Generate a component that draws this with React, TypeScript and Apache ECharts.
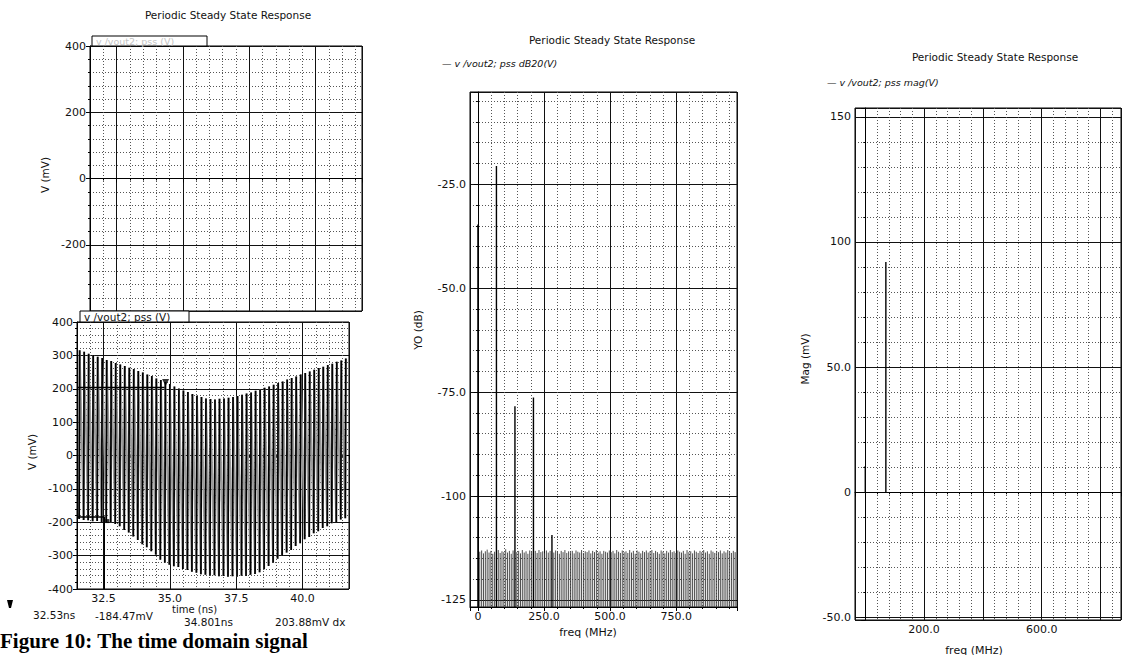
import React, { useEffect, useRef } from 'react';
import * as echarts from 'echarts';

const FONT = '"DejaVu Sans", Verdana, sans-serif';

// ---------- time domain (left) ----------
const TIME_MIN = 31.5;
const TIME_MAX = 41.75;
const timeTicks = [32.5, 35, 37.5, 40];
const cycleStart = 31.58; // ns, first rising edge
const cyclePeriod = 0.17; // ns
const riseTime = 0.02; // ns
const cyclePeaks = [
  315, 311, 305, 301, 296, 292, 286, 283, 277, 273, 268, 263, 259, 253, 249, 243, 238, 231, 226, 220,
  214, 207, 201, 195, 190, 184, 179, 175, 171, 169, 168, 170, 171, 173, 175, 178, 182, 186, 189, 194,
  198, 203, 207, 212, 217, 222, 228, 232, 237, 243, 247, 252, 257, 262, 266, 271, 275, 281, 285, 291,
];
const cycleTroughs = [
  -190, -193, -194, -197, -196, -199, -200, -201, -205, -212, -223, -231, -243, -253, -266, -275, -287, -297, -312, -321,
  -327, -332, -334, -340, -343, -348, -351, -356, -357, -360, -359, -362, -361, -363, -362, -363, -360, -361, -357, -355,
  -350, -341, -331, -321, -309, -301, -291, -283, -271, -263, -251, -244, -233, -227, -217, -212, -203, -199, -192, -188,
];
const markerA = { t: 32.53, v: -184.47 };
const markerB = { t: 34.801, v: 203.88 };
const topYTicks = [-200, 0, 200, 400];
const botYTicks = [-400, -300, -200, -100, 0, 100, 200, 300, 400];

// ---------- spectrum dB20 (middle) ----------
const specStep = 7; // MHz between harmonics
const specDb = [
  -34.7, -113.4, -113.1, -113.8, -113.3, -112.9, -113.6, -113.2, -113.9, -113.4,
  -20.6, -113.0, -113.7, -113.3, -113.5, -112.8, -113.6, -113.2, -113.9, -113.1,
  -78.4, -113.5, -113.2, -113.8, -113.0, -113.6, -113.3, -113.9, -113.1, -113.4,
  -76.3, -113.2, -113.7, -113.0, -113.5, -113.3, -113.8, -113.1, -113.6, -113.2,
  -109.4, -113.6, -113.1, -113.4, -113.9, -113.2, -113.5, -113.0, -113.7, -113.3,
  -113.5, -113.2, -113.8, -113.1, -113.4, -113.6, -113.0, -113.7, -113.3, -113.5,
  -113.1, -113.8, -113.2, -113.5, -113.0, -113.6, -113.3, -113.9, -113.2, -113.4,
  -113.6, -113.1, -113.5, -113.2, -113.8, -113.0, -113.4, -113.7, -113.1, -113.5,
  -113.3, -113.7, -113.0, -113.6, -113.2, -113.9, -113.1, -113.4, -113.8, -113.2,
  -113.5, -113.1, -113.6, -113.3, -113.0, -113.7, -113.2, -113.5, -113.9, -113.1,
  -113.4, -113.8, -113.2, -113.6, -113.0, -113.5, -113.3, -113.7, -113.1, -113.4,
  -113.6, -113.2, -113.9, -113.0, -113.5, -113.3, -113.8, -113.1, -113.4, -113.7,
  -113.2, -113.5, -113.0, -113.6, -113.3, -113.9, -113.1, -113.4, -113.7, -113.2,
  -113.5, -113.1, -113.8, -113.3, -113.6, -113.0, -113.4, -113.7, -113.2, -113.5,
];
const DB_MIN = -126.7;
const DB_MAX = -2.8;
const dbYTicks = [-125, -100, -75, -50, -25];
const dbYLabels = ['-125', '-100', '-75.0', '-50.0', '-25.0'];
const dbXTicks = [0, 250, 500, 750];
const dbXLabels = ['0', '250.0', '500.0', '750.0'];

// ---------- spectrum magnitude (right) ----------
const magFreq = [0, 70];
const magMv = [10.5, 92];
const magYTicks = [-50, 0, 50, 100, 150];
const magYLabels = ['-50.0', '0', '50.0', '100', '150'];
const magXTicks = [200, 600];
const magXLabels = ['200.0', '600.0'];

const pick = (ticks: number[], labels: string[]) => (v: number) => {
  const i = ticks.findIndex((t) => Math.abs(t - v) < 1e-6);
  return i >= 0 ? labels[i] : '';
};

function axis(gridIndex: number, min: number, max: number, major: number, minorSplit: number, fmt: any, showLabels: boolean) {
  return {
    type: 'value',
    gridIndex,
    min,
    max,
    minInterval: major,
    maxInterval: major,
    axisLine: { show: true, lineStyle: { color: '#000', width: 1 } },
    axisTick: { show: true, length: 4, lineStyle: { color: '#000', width: 1 } },
    minorTick: { show: true, splitNumber: minorSplit, length: 2, lineStyle: { color: '#000', width: 1 } },
    splitLine: { show: true, lineStyle: { color: '#111', width: 1, type: 'solid' } },
    minorSplitLine: { show: true, lineStyle: { color: '#555', width: 1, type: [1, 2] } },
    axisLabel: { show: showLabels, formatter: fmt, color: '#111', fontFamily: FONT, fontSize: 11, margin: 4 },
  };
}

const txt = (x: number, y: number, text: string, o: any = {}) => ({
  type: 'text',
  x,
  y,
  rotation: o.rotation || 0,
  silent: true,
  z: 100,
  style: {
    text,
    fill: o.fill || '#111',
    fontFamily: o.fontFamily || FONT,
    fontSize: o.fontSize || 11,
    fontStyle: o.fontStyle || 'normal',
    fontWeight: o.fontWeight || 'normal',
    textAlign: o.align || 'left',
    textVerticalAlign: 'middle',
  },
});

export default function App() {
  const ref = useRef<HTMLDivElement>(null);
  useEffect(() => {
    if (!ref.current) return;
    const chart = echarts.init(ref.current, null, { renderer: 'svg' });

    const zigzag: number[][] = [];
    const rises: number[][] = [];
    cyclePeaks.forEach((p, i) => {
      const t = cycleStart + i * cyclePeriod;
      zigzag.push([t, cycleTroughs[i]]);
      zigzag.push([t + riseTime, p]);
      rises.push([t, cycleTroughs[i], p]);
    });
    const specData = specDb.map((v, k) => [k * specStep, v]);
    const magData = magFreq.map((f, i) => [f, magMv[i]]);

    const stem = (base: number, heavy: (v: number) => boolean) => (params: any, api: any) => {
      const v = api.value(1);
      const top = api.coord([api.value(0), v]);
      const bot = api.coord([api.value(0), base]);
      const h = heavy(v);
      return {
        type: 'line',
        shape: { x1: top[0], y1: top[1], x2: bot[0], y2: bot[1] },
        style: { stroke: h ? '#000' : '#3a3a3a', lineWidth: h ? 1.4 : 0.9 },
      };
    };

    const gridBase = { show: true, borderColor: '#000', borderWidth: 1, containLabel: false, outerBoundsMode: 'none' };

    const option: any = {
      animation: false,
      backgroundColor: '#fff',
      grid: [
        { ...gridBase, left: 90, top: 46, width: 272, height: 265 },
        { ...gridBase, left: 77, top: 322, width: 272, height: 267 },
        { ...gridBase, left: 470, top: 92, width: 267, height: 515 },
        { ...gridBase, left: 855, top: 108, width: 266, height: 512 },
      ],
      xAxis: [
        axis(0, TIME_MIN, TIME_MAX, 2.5, 5, () => '', false),
        axis(1, TIME_MIN, TIME_MAX, 2.5, 5, pick(timeTicks, timeTicks.map((t) => t.toFixed(1))), true),
        axis(2, -30, 980, 250, 5, pick(dbXTicks, dbXLabels), true),
        axis(3, -35, 870, 200, 5, pick(magXTicks, magXLabels), true),
      ],
      yAxis: [
        axis(0, -400, 400, 200, 5, pick(topYTicks, topYTicks.map(String)), true),
        axis(1, -400, 400, 100, 5, pick(botYTicks, botYTicks.map(String)), true),
        axis(2, DB_MIN, DB_MAX, 25, 5, pick(dbYTicks, dbYLabels), true),
        axis(3, -51, 153.5, 50, 5, pick(magYTicks, magYLabels), true),
      ],
      series: [
        {
          type: 'line', xAxisIndex: 1, yAxisIndex: 1, data: zigzag, showSymbol: false, symbol: 'none',
          lineStyle: { color: '#9a9a9a', width: 2 }, silent: true, z: 3,
        },
        {
          type: 'custom', xAxisIndex: 1, yAxisIndex: 1, data: rises, clip: true, silent: true, z: 4,
          renderItem: (params: any, api: any) => {
            const a = api.coord([api.value(0), api.value(1)]);
            const b = api.coord([api.value(0) + riseTime, api.value(2)]);
            return { type: 'line', shape: { x1: a[0], y1: a[1], x2: b[0], y2: b[1] }, style: { stroke: '#000', lineWidth: 1.7 } };
          },
        },
        {
          type: 'line', xAxisIndex: 1, yAxisIndex: 1, showSymbol: false, symbol: 'none', silent: true, z: 6,
          data: [[TIME_MIN, markerB.v], [markerB.t, markerB.v]],
          lineStyle: { color: '#000', width: 1.6 },
        },
        {
          type: 'line', xAxisIndex: 1, yAxisIndex: 1, showSymbol: false, symbol: 'none', silent: true, z: 6,
          data: [[TIME_MIN, markerA.v], [markerA.t, markerA.v], [markerA.t, -400]],
          lineStyle: { color: '#000', width: 1.4 },
        },
        {
          type: 'scatter', xAxisIndex: 1, yAxisIndex: 1, silent: true, z: 7,
          data: [[markerB.t, markerB.v]], symbol: 'triangle', symbolRotate: 180, symbolSize: 7, symbolOffset: [1, -5],
          itemStyle: { color: '#000' },
        },
        {
          type: 'scatter', xAxisIndex: 1, yAxisIndex: 1, silent: true, z: 7,
          data: [[markerA.t, markerA.v]], symbol: 'rect', symbolSize: 4, symbolOffset: [3, 4],
          itemStyle: { color: '#000' },
        },
        {
          type: 'custom', xAxisIndex: 2, yAxisIndex: 2, data: specData, clip: true, silent: true, z: 4,
          renderItem: stem(DB_MIN, (v: number) => v > -112),
        },
        {
          type: 'custom', xAxisIndex: 3, yAxisIndex: 3, data: magData, clip: true, silent: true, z: 4,
          renderItem: stem(0, () => true),
        },
      ],
      graphic: [
        // legend boxes
        { type: 'rect', shape: { x: 92, y: 36, width: 115, height: 10 }, style: { fill: '#fff', stroke: '#000', lineWidth: 1 }, z: 90, silent: true },
        txt(96, 41, 'v /vout2; pss (V)', { fill: '#c4c4c4', fontSize: 9.5 }),
        { type: 'rect', shape: { x: 80, y: 311, width: 109, height: 11 }, style: { fill: '#fff', stroke: '#000', lineWidth: 1 }, z: 90, silent: true },
        txt(84, 317, 'v /vout2; pss (V)', { fontSize: 10.5 }),
        // titles
        txt(228, 15, 'Periodic Steady State Response', { align: 'center', fontSize: 10.5 }),
        txt(612, 40, 'Periodic Steady State Response', { align: 'center', fontSize: 10.5 }),
        txt(995, 57, 'Periodic Steady State Response', { align: 'center', fontSize: 10.5 }),
        // legends
        txt(442, 63, '— v /vout2; pss dB20(V)', { fontSize: 9.5, fontStyle: 'italic' }),
        txt(827, 82, '— v /vout2; pss mag(V)', { fontSize: 9.5, fontStyle: 'italic' }),
        // axis names
        txt(45, 175, 'V (mV)', { align: 'center', rotation: Math.PI / 2, fontSize: 10.5 }),
        txt(32, 452, 'V (mV)', { align: 'center', rotation: Math.PI / 2, fontSize: 10.5 }),
        txt(418, 330, 'YO (dB)', { align: 'center', rotation: Math.PI / 2, fontSize: 10.5 }),
        txt(805, 359, 'Mag (mV)', { align: 'center', rotation: Math.PI / 2, fontSize: 10.5 }),
        txt(588, 632, 'freq (MHz)', { align: 'center', fontSize: 11 }),
        txt(974, 650, 'freq (MHz)', { align: 'center', fontSize: 11 }),
        // cursor readout
        { type: 'polygon', shape: { points: [[7, 600], [13, 600], [11, 608], [9, 608]] }, style: { fill: '#000' }, silent: true },
        txt(33, 615, '32.53ns', { fontSize: 10.5 }),
        txt(95, 616, '-184.47mV', { fontSize: 10.5 }),
        txt(172, 609, 'time (ns)', { fontSize: 10 }),
        txt(184, 622, '34.801ns', { fontSize: 10.5 }),
        txt(275, 622, '203.88mV dx', { fontSize: 10.5 }),
        // caption
        txt(0, 641, 'Figure 10: The time domain signal', { fontFamily: '"Liberation Serif", "DejaVu Serif", serif', fontWeight: 'bold', fontSize: 21, fill: '#000' }),
      ],
    };
    chart.setOption(option);
    return () => chart.dispose();
  }, []);
  return <div ref={ref} style={{ position: 'absolute', left: 0, top: 0, width: 1134, height: 655, background: '#fff' }} />;
}
